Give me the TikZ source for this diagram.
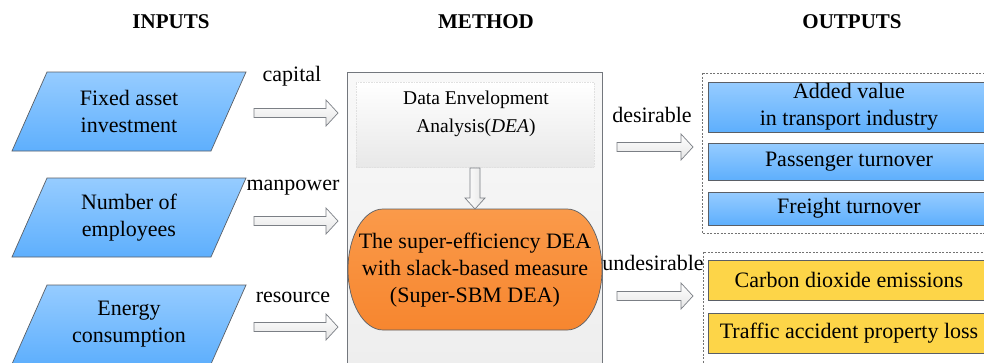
\documentclass[tikz,border=0pt]{standalone}
\usepackage{fontspec}
\setmainfont{Liberation Serif}
\usetikzlibrary{calc}
\definecolor{bluetop}{HTML}{96CCFF}
\definecolor{bluebot}{HTML}{5EAFFD}
\definecolor{yel}{HTML}{FDD548}
\definecolor{orgtop}{HTML}{FA9A4A}
\definecolor{orgbot}{HTML}{F7862F}
\definecolor{edge}{HTML}{5A5F66}
\definecolor{methfill}{HTML}{F4F4F4}
\newcommand\bigtxt{\fontsize{22}{27}\selectfont}
\newcommand\hdtxt{\fontsize{21}{25}\selectfont\bfseries}
\newcommand\deatxt{\fontsize{19.5}{28}\selectfont}
\newcommand\rblock[2]{%
  \draw[blockarr] ($(#1)+(0,-4.5)$) -- ($(#2)+(-12,-4.5)$) -- ($(#2)+(-12,-13)$) -- (#2)
    -- ($(#2)+(-12,13)$) -- ($(#2)+(-12,4.5)$) -- ($(#1)+(0,4.5)$) -- cycle;}
\newcommand\paragram[3]{%
  \path[parabox] (47,#1) -- (246,#1) -- (211,{#1+79}) -- (12,{#1+79}) -- cycle;
  \node[ptext] (#2) at (129,{#1+39.5}) {#3};}
\tikzset{
  blockarr/.style={draw=edge!80, line width=0.7pt, top color=white, bottom color=black!10, line join=miter},
  parabox/.style={draw=edge, line width=0.7pt, top color=bluetop, bottom color=bluebot},
  ptext/.style={align=center, font=\bigtxt, inner sep=0pt},
  lbl/.style={font=\bigtxt, inner sep=0pt},
  hd/.style={font=\hdtxt, inner sep=0pt},
  outbox/.style={draw=edge, line width=0.7pt, minimum width=282pt, align=center, font=\bigtxt, inner sep=0pt},
  bluebox/.style={outbox, top color=bluetop, bottom color=bluebot},
  yelbox/.style={outbox, fill=yel},
  grp/.style={draw=black!55, dashed, line width=0.6pt, dash pattern=on 2pt off 1.5pt},
}
\begin{document}
\begin{tikzpicture}[x=1pt,y=-1pt]
\clip (0,0) rectangle (984,362);
\fill[white] (0,0) rectangle (984,362);
% headers
\node[hd] (hin) at (171,22) {INPUTS};
\node[hd] (hme) at (486,22) {METHOD};
\node[hd] (hout) at (852,22) {OUTPUTS};
% inputs
\paragram{72}{in1}{Fixed asset\\investment}
\paragram{178}{in2}{Number of\\employees}
\paragram{285}{in3}{Energy\\consumption}
% method box
\path[draw=edge!85, line width=0.7pt, top color=methfill!60, bottom color=black!7] (347,72) rectangle (602,390);
\node[draw=black!12, densely dotted, line width=0.6pt, top color=white, bottom color=black!9,
      minimum width=238pt, minimum height=85pt, inner sep=0pt] (dea) at (475,124.5) {};
\node[font=\deatxt, align=center, inner sep=0pt] (deat) at (476,114) {Data Envelopment\\Analysis(\textit{DEA})};
\path[draw=edge, line width=0.7pt, top color=orgtop, bottom color=orgbot]
  (383,209) -- (567,209) arc[start angle=-90,end angle=90,x radius=35,y radius=60.5]
  -- (383,330) arc[start angle=90,end angle=270,x radius=35,y radius=60.5] -- cycle;
\node[ptext] (sbm) at (475,270) {The super-efficiency DEA\\with slack-based measure\\(Super-SBM DEA)};
% down arrow
\coordinate (ds) at (475,168);
\coordinate (de) at (475,209);
\draw[blockarr, left color=white, right color=black!10]
  ($(ds)+(-5,0)$) -- ($(de)+(-5,-11)$) -- ($(de)+(-10,-11)$) -- (de) -- ($(de)+(10,-11)$)
  -- ($(de)+(5,-11)$) -- ($(ds)+(5,0)$) -- cycle;
% input arrows
\coordinate (a1s) at (254,113); \coordinate (a1e) at (338,113);
\coordinate (a2s) at (254,221); \coordinate (a2e) at (338,221);
\coordinate (a3s) at (254,327); \coordinate (a3e) at (338,327);
\rblock{a1s}{a1e}
\rblock{a2s}{a2e}
\rblock{a3s}{a3e}
\node[lbl] (l1) at (292,76) {capital};
\node[lbl] (l2) at (293,188) {manpower};
\node[lbl] (l3) at (293,297) {resource};
% output arrows
\coordinate (o1s) at (617,147); \coordinate (o1e) at (693,147);
\coordinate (o2s) at (617,296); \coordinate (o2e) at (693,296);
\rblock{o1s}{o1e}
\rblock{o2s}{o2e}
\node[lbl] (l4) at (652,115) {desirable};
\node[lbl] (l5) at (653,263) {undesirable};
% output groups
\draw[grp] (702,73) rectangle (1000,233);
\draw[grp] (703,252) rectangle (1000,380);
\node[bluebox, minimum height=50pt] (b1) at (849,107) {Added value\\in transport industry};
\node[bluebox, minimum height=37pt] (b2) at (849,161.5) {Passenger turnover};
\node[bluebox, minimum height=33pt] (b3) at (849,208.5) {Freight turnover};
\node[yelbox, minimum height=40pt] (y1) at (849,280) {Carbon dioxide emissions};
\node[yelbox, minimum height=40pt] (y2) at (849,333) {Traffic accident property loss};
\end{tikzpicture}
\end{document}
